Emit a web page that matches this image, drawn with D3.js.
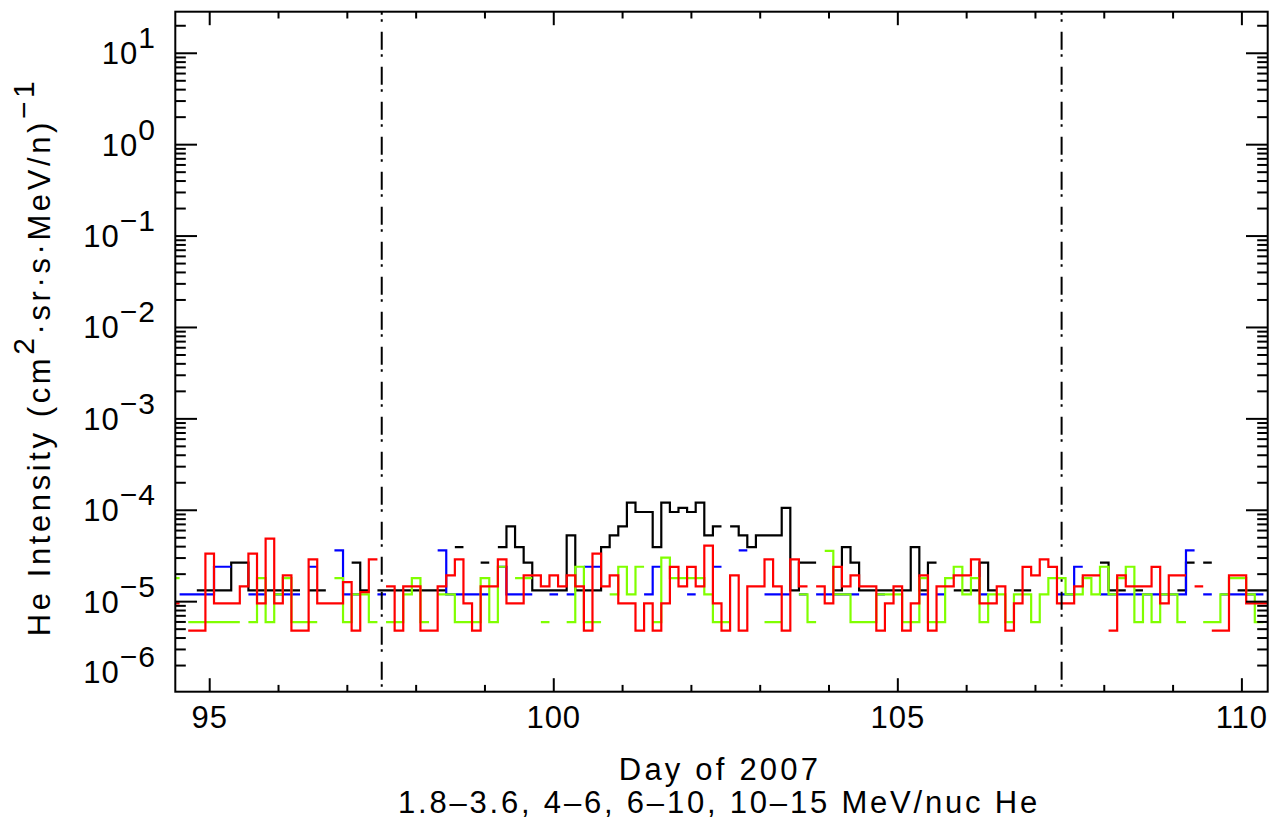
<!DOCTYPE html>
<html><head><meta charset="utf-8">
<script src="https://cdn.jsdelivr.net/npm/d3@7/dist/d3.min.js"></script>
<style>body{margin:0;background:#fff}svg{display:block}</style>
</head><body>
<svg id="chart" width="1281" height="824"></svg>
<script>
// ---- data ----
const binStart = 94.5;      // centre of first 3-hour bin (day of year)
const binWidth = 0.125;     // 3 hours
const eventLines = [97.5, 107.38];
const xTicksMajor = [95, 100, 105, 110];
const yTickExps = [-6, -5, -4, -3, -2, -1, 0, 1];
const seriesNames = ["1.8-3.6", "4-6", "6-10", "10-15"];

const heLow = [ // 1.8-3.6 MeV/nuc (black)
null,null,null,1.33e-5,1.33e-5,1.33e-5,1.33e-5,2.67e-5,2.67e-5,1.33e-5,1.33e-5,1.33e-5,1.33e-5,1.33e-5,1.33e-5,null,
1.33e-5,1.33e-5,null,null,null,2.67e-5,1.33e-5,null,1.33e-5,1.33e-5,1.33e-5,1.33e-5,1.33e-5,1.33e-5,1.33e-5,1.33e-5,
null,3.96e-5,null,null,2.67e-5,null,3.96e-5,6.68e-5,3.96e-5,2.67e-5,1.33e-5,1.33e-5,1.33e-5,1.33e-5,5.32e-5,1.33e-5,
1.33e-5,1.33e-5,3.96e-5,5.32e-5,6.68e-5,1.21e-4,9.57e-5,9.57e-5,3.96e-5,1.21e-4,9.57e-5,1.06e-4,9.57e-5,1.21e-4,5.32e-5,6.68e-5,
null,6.68e-5,5.32e-5,3.96e-5,5.32e-5,5.32e-5,5.32e-5,1.06e-4,1.33e-5,2.67e-5,2.67e-5,null,null,1.33e-5,3.96e-5,2.67e-5,
1.33e-5,1.33e-5,1.33e-5,1.33e-5,1.33e-5,1.33e-5,3.96e-5,1.33e-5,2.67e-5,null,null,1.33e-5,1.33e-5,1.33e-5,2.67e-5,1.33e-5,
null,null,1.33e-5,1.33e-5,null,null,null,null,null,null,null,null,2.67e-5,1.33e-5,1.33e-5,null,
1.33e-5,null,null,null,null,1.33e-5,2.67e-5,null,2.67e-5,null,null,null,1.33e-5,1.33e-5,1.33e-5,1.33e-5
];
const heMid = [ // 4-6 MeV/nuc (blue)
null,1.2e-5,1.2e-5,1.2e-5,1.2e-5,2.41e-5,2.41e-5,null,null,1.2e-5,1.2e-5,null,1.2e-5,1.2e-5,1.2e-5,null,
2.41e-5,null,null,3.64e-5,1.2e-5,1.2e-5,null,null,1.2e-5,null,null,null,null,null,null,3.64e-5,
1.2e-5,1.2e-5,1.2e-5,1.2e-5,1.2e-5,null,2.41e-5,1.2e-5,1.2e-5,1.2e-5,null,null,1.2e-5,null,1.2e-5,null,
2.41e-5,2.41e-5,null,null,null,null,null,1.2e-5,2.41e-5,null,null,null,1.2e-5,null,null,2.41e-5,
null,null,3.64e-5,null,null,1.2e-5,1.2e-5,1.2e-5,null,1.2e-5,null,1.2e-5,1.2e-5,1.2e-5,1.2e-5,1.2e-5,
null,null,1.2e-5,null,null,null,null,1.2e-5,null,1.2e-5,null,null,null,null,1.2e-5,null,
null,null,null,null,null,null,null,1.2e-5,1.2e-5,2.41e-5,null,null,1.2e-5,1.2e-5,1.2e-5,1.2e-5,
1.2e-5,1.2e-5,1.2e-5,1.2e-5,1.2e-5,1.2e-5,3.64e-5,null,1.2e-5,null,1.2e-5,1.2e-5,1.2e-5,1.2e-5,1.2e-5,null
];
const heHigh = [ // 6-10 MeV/nuc (green)
1.81e-5,null,5.96e-6,5.96e-6,5.96e-6,5.96e-6,5.96e-6,5.96e-6,null,5.96e-6,1.81e-5,5.96e-6,1.2e-5,1.81e-5,5.96e-6,5.96e-6,
5.96e-6,null,null,1.81e-5,5.96e-6,1.2e-5,1.2e-5,5.96e-6,null,5.96e-6,5.96e-6,1.2e-5,1.81e-5,5.96e-6,null,1.2e-5,
1.2e-5,5.96e-6,5.96e-6,5.96e-6,1.81e-5,5.96e-6,2.41e-5,null,1.81e-5,1.81e-5,null,5.96e-6,null,null,5.96e-6,2.41e-5,
5.96e-6,5.96e-6,null,1.2e-5,2.41e-5,1.2e-5,2.41e-5,null,5.96e-6,3.03e-5,1.81e-5,1.81e-5,1.81e-5,1.81e-5,1.2e-5,5.96e-6,
5.96e-6,null,null,null,null,5.96e-6,5.96e-6,null,null,1.2e-5,5.96e-6,null,3.6e-5,1.2e-5,1.2e-5,5.96e-6,
5.96e-6,5.96e-6,1.2e-5,1.2e-5,1.2e-5,5.96e-6,5.96e-6,1.81e-5,5.96e-6,5.96e-6,1.81e-5,2.41e-5,1.2e-5,1.81e-5,5.96e-6,1.2e-5,
1.2e-5,5.96e-6,1.2e-5,1.2e-5,5.96e-6,1.2e-5,1.81e-5,1.81e-5,1.2e-5,1.2e-5,1.81e-5,1.2e-5,2.41e-5,1.2e-5,1.81e-5,2.41e-5,
5.96e-6,1.2e-5,5.96e-6,1.2e-5,1.2e-5,5.96e-6,null,null,5.96e-6,5.96e-6,1.2e-5,1.81e-5,1.81e-5,1.2e-5,5.96e-6,null
];
const heTop = [ // 10-15 MeV/nuc (red)
9.6e-6,null,4.83e-6,4.83e-6,3.35e-5,9.6e-6,9.6e-6,9.6e-6,1.47e-5,3.35e-5,9.6e-6,4.9e-5,9.6e-6,1.94e-5,4.83e-6,4.83e-6,
2.9e-5,9.6e-6,9.6e-6,9.6e-6,1.64e-5,4.83e-6,1.27e-5,2.9e-5,null,1.47e-5,4.83e-6,1.47e-5,1.47e-5,4.83e-6,4.83e-6,1.47e-5,
1.94e-5,2.9e-5,9.6e-6,4.83e-6,1.47e-5,1.47e-5,2.9e-5,9.6e-6,9.6e-6,1.94e-5,1.94e-5,1.47e-5,1.94e-5,1.47e-5,1.94e-5,1.47e-5,
4.83e-6,3.35e-5,1.47e-5,1.94e-5,9.6e-6,9.6e-6,4.83e-6,9.6e-6,4.83e-6,9.6e-6,2.4e-5,1.47e-5,2.4e-5,1.47e-5,4.1e-5,9.6e-6,
4.83e-6,1.94e-5,4.83e-6,1.47e-5,1.47e-5,2.9e-5,1.47e-5,4.83e-6,2.9e-5,1.47e-5,null,1.47e-5,9.6e-6,2.4e-5,1.47e-5,1.94e-5,
1.47e-5,1.47e-5,4.83e-6,9.6e-6,1.47e-5,4.83e-6,9.6e-6,1.94e-5,4.83e-6,1.47e-5,1.47e-5,1.94e-5,1.94e-5,2.9e-5,9.6e-6,9.6e-6,
1.47e-5,4.83e-6,9.6e-6,2.4e-5,1.94e-5,2.9e-5,2.4e-5,9.6e-6,9.6e-6,1.47e-5,1.94e-5,1.94e-5,null,4.83e-6,1.94e-5,1.47e-5,
1.47e-5,1.47e-5,2.4e-5,9.6e-6,1.94e-5,1.94e-5,null,1.47e-5,null,4.83e-6,4.83e-6,1.94e-5,1.94e-5,9.6e-6,9.6e-6,9.6e-6
];
const seriesColors = ["#000000", "#0000ff", "#80ff00", "#ff0000"];

// ---- layout ----
const W = 1281, H = 824;
const L = 175.3, R = 1267.7, T = 11.7, B = 691.7;
const svg = d3.select("#chart");
svg.append("rect").attr("width", W).attr("height", H).attr("fill", "#fff");

const x = d3.scaleLinear().domain([94.5, 110.375]).range([L, R]);
const y = d3.scaleLog().domain([1.035e-6, 28.5]).range([B, T]);

const font = "'Liberation Sans', Arial, sans-serif";

svg.append("clipPath").attr("id", "clip").append("rect")
  .attr("x", L).attr("y", T).attr("width", R - L).attr("height", B - T);

const plot = svg.append("g").attr("clip-path", "url(#clip)");

const days = heLow.map((_, k) => binStart + k * binWidth);
const stepLine = d3.line().x(d => x(d.d)).y(d => y(d.v)).curve(d3.curveStepAfter);

[heLow, heMid, heHigh, heTop].forEach((vals, si) => {
  const runs = [];
  let cur = null;
  vals.forEach((v, k) => {
    if (v == null) { cur = null; return; }
    if (!cur) { cur = []; runs.push(cur); }
    cur.push({ k, v });
  });
  runs.forEach(run => {
    const pts = run.map(p => ({ d: days[p.k] - binWidth / 2, v: p.v }));
    const last = run[run.length - 1];
    pts.push({ d: days[last.k] + binWidth / 2, v: last.v });
    plot.append("path").attr("d", stepLine(pts))
      .attr("fill", "none").attr("stroke", seriesColors[si])
      .attr("stroke-width", 2.2).attr("stroke-linejoin", "miter");
  });
});

// event lines (dash-dot)
eventLines.forEach(d => {
  svg.append("line").attr("x1", x(d)).attr("x2", x(d)).attr("y1", T).attr("y2", B)
    .attr("stroke", "#000").attr("stroke-width", 2)
    .attr("stroke-dasharray", "18,4.5,2.5,10").attr("stroke-dashoffset", 15);
});

// frame
const axes = svg.append("g").attr("stroke", "#000").attr("stroke-width", 2);
axes.append("rect").attr("x", L).attr("y", T).attr("width", R - L).attr("height", B - T).attr("fill", "none");

// x ticks
const xMajLen = 13.5, xMinLen = 6.8;
d3.range(95, 111).forEach(d => {
  const len = xTicksMajor.includes(d) ? xMajLen : xMinLen;
  axes.append("line").attr("x1", x(d)).attr("x2", x(d)).attr("y1", B).attr("y2", B - len);
  axes.append("line").attr("x1", x(d)).attr("x2", x(d)).attr("y1", T).attr("y2", T + len);
});
// y ticks
const yMajLen = 21.7, yMinLen = 10.5;
const [ymin, ymax] = y.domain();
yTickExps.forEach(e => {
  for (let m = 1; m <= 9; m++) {
    const v = m * Math.pow(10, e);
    if (v < ymin * 0.999 || v > ymax) continue;
    const len = m === 1 ? yMajLen : yMinLen;
    const yy = Math.min(y(v), B);
    axes.append("line").attr("x1", L).attr("x2", L + len).attr("y1", yy).attr("y2", yy);
    axes.append("line").attr("x1", R).attr("x2", R - len).attr("y1", yy).attr("y2", yy);
  }
});

// tick labels
const lab = svg.append("g").attr("font-family", font).attr("fill", "#000");
xTicksMajor.forEach(d => {
  lab.append("text").attr("x", x(d)).attr("y", 728).attr("text-anchor", "middle")
    .attr("font-size", 31).attr("letter-spacing", 1).text(d);
});
yTickExps.forEach(e => {
  const yy = Math.min(y(Math.pow(10, e)), B - 20);
  const t = lab.append("text").attr("x", 156).attr("y", yy + 11).attr("text-anchor", "end")
    .attr("font-size", 31).attr("letter-spacing", 1);
  t.append("tspan").text("10");
  t.append("tspan").attr("dy", -16).attr("font-size", 30).text((e < 0 ? "\u2212" : "") + Math.abs(e));
});

// axis titles
lab.append("text").attr("x", 720).attr("y", 780).attr("text-anchor", "middle")
  .attr("font-size", 31).attr("letter-spacing", 3.2).text("Day of 2007");
lab.append("text").attr("x", 719).attr("y", 813).attr("text-anchor", "middle")
  .attr("font-size", 31).attr("letter-spacing", 2.8)
  .text("1.8\u20133.6, 4\u20136, 6\u201310, 10\u201315 MeV/nuc He");

const yt = lab.append("text").attr("transform", "translate(50,357) rotate(-90)")
  .attr("text-anchor", "middle").attr("font-size", 31).attr("letter-spacing", 3.6);
yt.append("tspan").text("He Intensity (cm");
yt.append("tspan").attr("dy", -16).attr("font-size", 30).text("2");
yt.append("tspan").attr("dy", 16).text("\u00b7sr\u00b7s\u00b7MeV/n)");
yt.append("tspan").attr("dy", -16).attr("font-size", 30).text("\u22121");
</script>
</body></html>
